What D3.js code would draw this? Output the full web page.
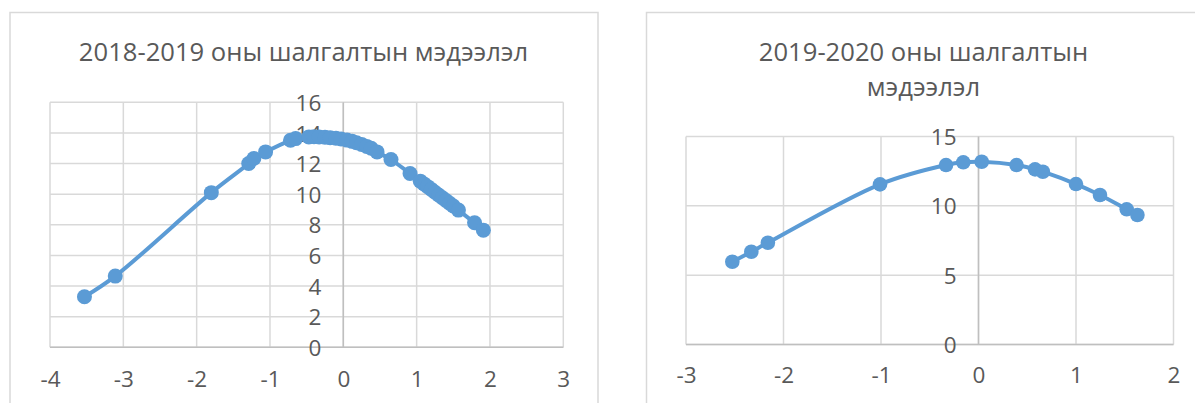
<!DOCTYPE html>
<html>
<head>
<meta charset="utf-8">
<script src="https://cdn.jsdelivr.net/npm/d3@7"></script>
<style>
  html, body { margin: 0; padding: 0; background: #fff; }
  svg { display: block; }
  text { font-family: "Open Sans", "Noto Sans", sans-serif; fill: #595959; }
</style>
</head>
<body>
<svg id="chart" width="1195" height="403"></svg>
<script>
// ---- Chart 1: 2018-2019 ----
const title1 = ["2018-2019 оны шалгалтын мэдээлэл"];
const x1Values = [-3.53, -3.11, -1.8, -1.29, -1.22, -1.06, -0.72, -0.65, -0.47, -0.4, -0.33, -0.25, -0.18, -0.1, -0.03, 0.05, 0.12, 0.18, 0.25, 0.32, 0.38, 0.46, 0.65, 0.91, 1.05, 1.1, 1.15, 1.2, 1.25, 1.3, 1.35, 1.4, 1.45, 1.5, 1.57, 1.79, 1.91];
const y1Values = [3.3, 4.65, 10.1, 12.0, 12.33, 12.76, 13.52, 13.63, 13.74, 13.75, 13.74, 13.72, 13.69, 13.65, 13.6, 13.53, 13.45, 13.36, 13.25, 13.12, 13.0, 12.76, 12.26, 11.35, 10.85, 10.67, 10.49, 10.31, 10.13, 9.95, 9.77, 9.59, 9.41, 9.23, 8.96, 8.13, 7.65];
const x1Ticks = [-4, -3, -2, -1, 0, 1, 2, 3];
const y1Ticks = [0, 2, 4, 6, 8, 10, 12, 14, 16];

// ---- Chart 2: 2019-2020 ----
const title2 = ["2019-2020 оны шалгалтын", "мэдээлэл"];
const x2Values = [-2.525, -2.33, -2.16, -1.01, -0.333, -0.156, 0.033, 0.39, 0.58, 0.66, 1.0, 1.246, 1.52, 1.63];
const y2Values = [5.97, 6.69, 7.34, 11.55, 12.94, 13.14, 13.18, 12.94, 12.63, 12.46, 11.57, 10.78, 9.75, 9.34];
const x2Ticks = [-3, -2, -1, 0, 1, 2];
const y2Ticks = [0, 5, 10, 15];

const svg = d3.select("#chart");
const COLOR = "#5B9BD5";

function drawChart(cfg) {
  const g = svg.append("g");
  g.append("rect")
    .attr("x", cfg.box[0]).attr("y", cfg.box[1])
    .attr("width", cfg.box[2]).attr("height", cfg.box[3])
    .attr("fill", "#fff").attr("stroke", "#D9D9D9").attr("stroke-width", 1.5);

  const x = d3.scaleLinear().domain(d3.extent(cfg.xTicks)).range(cfg.xRange);
  const y = d3.scaleLinear().domain(d3.extent(cfg.yTicks)).range(cfg.yRange);

  g.append("g").selectAll("line").data(cfg.xTicks).join("line")
    .attr("x1", d => x(d)).attr("x2", d => x(d))
    .attr("y1", y.range()[0]).attr("y2", y.range()[1])
    .attr("stroke", "#D9D9D9").attr("stroke-width", 1.5);
  g.append("g").selectAll("line").data(cfg.yTicks).join("line")
    .attr("y1", d => y(d)).attr("y2", d => y(d))
    .attr("x1", x.range()[0]).attr("x2", x.range()[1])
    .attr("stroke", "#D9D9D9").attr("stroke-width", 1.5);

  g.append("line").attr("x1", x.range()[0]).attr("x2", x.range()[1])
    .attr("y1", y(0)).attr("y2", y(0)).attr("stroke", "#BFBFBF").attr("stroke-width", 1.5);
  g.append("line").attr("x1", x(0)).attr("x2", x(0))
    .attr("y1", y.range()[0]).attr("y2", y.range()[1]).attr("stroke", "#BFBFBF").attr("stroke-width", 1.5);

  const xa = g.append("g").attr("transform", `translate(0,${cfg.xLabelY})`)
    .call(d3.axisBottom(x).tickValues(cfg.xTicks).tickSize(0).tickPadding(0).tickFormat(d => String(d)));
  xa.select(".domain").remove();
  xa.selectAll("text").attr("font-size", cfg.tickFont).attr("fill", "#595959")
    .attr("dy", "0").attr("y", 0).attr("font-family", '"Open Sans", sans-serif');

  const ya = g.append("g").attr("transform", `translate(${x(0) - cfg.yLabelGap},0)`)
    .call(d3.axisLeft(y).tickValues(cfg.yTicks).tickSize(0).tickPadding(0));
  ya.select(".domain").remove();
  ya.selectAll("text").attr("font-size", cfg.tickFont).attr("fill", "#595959")
    .attr("x", 0).attr("dy", "0.36em").attr("font-family", '"Open Sans", sans-serif');

  const t = g.append("text").attr("text-anchor", "middle")
    .attr("font-size", cfg.titleFont);
  cfg.title.forEach((line, i) => {
    t.append("tspan").attr("x", cfg.titleX).attr("y", cfg.titleY + i * cfg.titleLH).text(line);
  });

  const pts = cfg.xs.map((v, i) => [v, cfg.ys[i]]);
  const line = d3.line().x(d => x(d[0])).y(d => y(d[1])).curve(d3.curveCatmullRom.alpha(0.5));
  g.append("path").datum(pts).attr("d", line)
    .attr("fill", "none").attr("stroke", COLOR).attr("stroke-width", 4)
    .attr("stroke-linejoin", "round").attr("stroke-linecap", "round");
  g.append("g").selectAll("circle").data(pts).join("circle")
    .attr("cx", d => x(d[0])).attr("cy", d => y(d[1])).attr("r", cfg.r)
    .attr("fill", COLOR);
}

drawChart({
  box: [10, 12.5, 588, 420],
  xTicks: x1Ticks, yTicks: y1Ticks,
  xRange: [50, 563.3], yRange: [347.3, 102.3],
  xs: x1Values, ys: y1Values,
  xLabelY: 387, yLabelGap: 22,
  tickFont: 22.5, titleFont: 25.6,
  title: title1, titleX: 303.5, titleY: 61, titleLH: 35,
  r: 7.5
});

drawChart({
  box: [646.5, 12.5, 600, 420],
  xTicks: x2Ticks, yTicks: y2Ticks,
  xRange: [686, 1173.5], yRange: [344.5, 136.5],
  xs: x2Values, ys: y2Values,
  xLabelY: 383, yLabelGap: 22,
  tickFont: 22.5, titleFont: 25.6,
  title: title2, titleX: 923.5, titleY: 61, titleLH: 35,
  r: 7.3
});
</script>
</body>
</html>
